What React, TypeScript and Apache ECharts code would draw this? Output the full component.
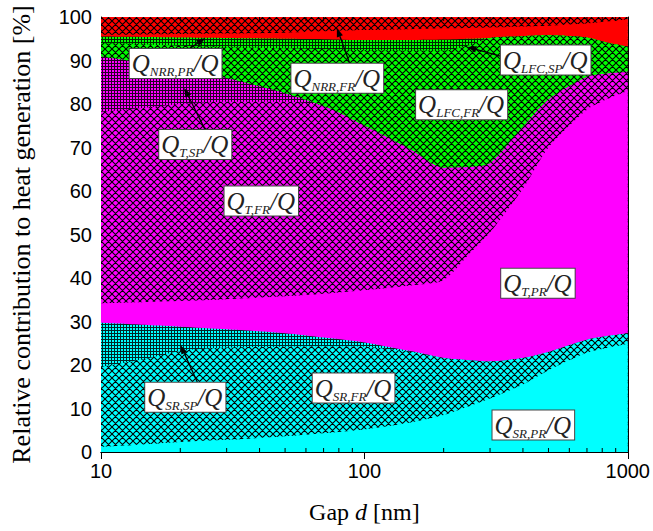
import React, { useEffect, useRef } from 'react';
import * as echarts from 'echarts';

// Gap d [nm]
const gaps = [10, 15, 20, 30, 50, 70, 100, 150, 200, 250, 300, 400, 500, 700, 850, 1000];
// Relative contributions [%], bottom to top
const srPR = [1.2, 1.8, 2.3, 2.8, 3.6, 4.3, 5.2, 6.8, 8.5, 10.5, 12.3, 15.5, 18.8, 22.8, 24.0, 24.8];
const srFR = [18.4, 19.7, 20.9, 21.2, 20.6, 20.0, 19.0, 16.2, 13.1, 10.6, 8.5, 6.1, 4.2, 3.0, 2.7, 2.5];
const srSP = [10.1, 7.7, 5.6, 4.2, 3.1, 2.0, 1.0, 0.2, 0, 0, 0, 0, 0, 0, 0, 0];
const tPR = [4.5, 5.3, 5.9, 6.9, 8.5, 10.1, 12.0, 15.1, 17.9, 24.4, 29.7, 38.9, 47.0, 52.9, 54.6, 55.7];
const tFR = [44.0, 44.7, 45.3, 45.4, 44.7, 43.1, 37.8, 31.2, 25.8, 20.0, 15.9, 14.2, 11.0, 7.5, 5.7, 4.4];
const tSP = [12.7, 10.1, 8.0, 5.5, 2.0, 0, 0, 0, 0, 0, 0, 0, 0, 0, 0, 0];
const lfcFR = [3.1, 4.4, 5.4, 7.1, 10.3, 13.1, 17.4, 22.8, 27.0, 28.0, 28.8, 20.9, 14.8, 9.1, 7.0, 5.8];
const lfcSP = [1.5, 1.7, 1.9, 2.1, 2.2, 2.3, 2.3, 2.4, 2.5, 1.5, 0, 0, 0, 0, 0, 0];
const nrrPR = [0.4, 0.6, 0.8, 1.0, 1.4, 1.8, 2.3, 2.5, 2.6, 2.5, 2.4, 2.2, 2.2, 3.2, 5.0, 6.3];
const nrrFR = [4.1, 4.0, 3.9, 3.8, 3.6, 3.3, 3.0, 2.8, 2.6, 2.5, 2.4, 2.2, 2.0, 1.5, 1.0, 0.5];

const minorGapTicks = [20, 30, 40, 50, 60, 70, 80, 90, 200, 300, 400, 500, 600, 700, 800, 900];

// label subscript, label anchor (gap, %), arrows [tailGap, tail%, tipGap, tip%]
const labelSubs = ['NRR,PR', 'NRR,FR', 'LFC,SP', 'LFC,FR', 'T,SP', 'T,FR', 'T,PR', 'SR,SP', 'SR,FR', 'SR,PR'];
const labelAnchors: number[][] = [
  [19.2, 89.3], [78.9, 85.9], [488, 90.1], [234, 79.8], [22.8, 70.7],
  [40.6, 57.7], [456, 38.8], [20.9, 12.6], [91, 14.7], [438, 6.2],
];
const arrows: number[][] = [
  [21.9, 92.9, 24.9, 95.2],
  [87.9, 89.4, 78.6, 97.5],
  [347, 90.6, 246, 93.1],
  [24.9, 74.0, 20.7, 83.7],
  [23.2, 16.1, 20.05, 24.6],
];

const CYAN = '#00ffff';
const MAGENTA = '#ff00ff';
const GREEN = '#00ff00';
const RED = '#ff0000';

function makePattern(base: string, kind: string): any {
  if (kind === 'solid') return base;
  const size = kind === 'cross' ? 7 : 3;
  const c = document.createElement('canvas');
  c.width = size;
  c.height = size;
  const ctx = c.getContext('2d')!;
  ctx.fillStyle = base;
  ctx.fillRect(0, 0, size, size);
  if (kind === 'cross') {
    ctx.strokeStyle = '#000';
    ctx.lineWidth = 1.1;
    ctx.beginPath();
    for (const k of [-size, 0, size]) {
      ctx.moveTo(k - 1, -1);
      ctx.lineTo(k + size + 1, size + 1);
      ctx.moveTo(k + size + 1, -1);
      ctx.lineTo(k - 1, size + 1);
    }
    ctx.stroke();
  } else {
    ctx.fillStyle = 'rgba(0,0,0,0.85)';
    ctx.fillRect(0, 0, size, 1);
    ctx.fillRect(0, 1, 1, size - 1);
  }
  return { image: c, repeat: 'repeat', imageWidth: size, imageHeight: size };
}

const layers = [
  { data: srPR, base: CYAN, kind: 'solid' },
  { data: srFR, base: CYAN, kind: 'cross' },
  { data: srSP, base: CYAN, kind: 'grid' },
  { data: tPR, base: MAGENTA, kind: 'solid' },
  { data: tFR, base: MAGENTA, kind: 'cross' },
  { data: tSP, base: MAGENTA, kind: 'grid' },
  { data: lfcFR, base: GREEN, kind: 'cross' },
  { data: lfcSP, base: GREEN, kind: 'grid' },
  { data: nrrPR, base: RED, kind: 'solid' },
  { data: nrrFR, base: RED, kind: 'cross' },
];

const SANS = 'Liberation Sans, Arial, sans-serif';
const SERIF = 'Liberation Serif, Times New Roman, serif';

export default function App() {
  const ref = useRef<HTMLDivElement>(null);
  useEffect(() => {
    document.body.style.margin = '0';
    const chart = echarts.init(ref.current!, null, { renderer: 'svg' });
    const axisCommon = {
      axisLine: { show: true, lineStyle: { color: '#000', width: 1 } },
      splitLine: { show: false },
    };
    // cumulative tops of each layer (stacked from the bottom)
    const running = gaps.map(() => 0);
    const tops = layers.map((l) => l.data.map((v, i) => (running[i] += v)));
    // draw upper layers first so lower layers cover them
    const order = layers.map((_, k) => k).reverse();

    chart.setOption({
      animation: false,
      backgroundColor: '#fff',
      grid: { left: 92, right: 25, top: 17, bottom: 79, containLabel: false },
      xAxis: [
        {
          type: 'log', logBase: 10, min: 10, max: 1000, position: 'bottom',
          ...axisCommon,
          axisTick: { show: true, inside: true, length: 7, lineStyle: { color: '#000' } },
          axisLabel: { color: '#000', fontFamily: SANS, fontSize: 20, margin: 9, formatter: (v: number) => String(Math.round(v)) },
          name: '{n|Gap }{i|d}{n| [nm]}',
          nameLocation: 'middle', nameGap: 48,
          nameTextStyle: {
            rich: {
              n: { fontFamily: SERIF, fontSize: 24, color: '#000' },
              i: { fontFamily: SERIF, fontSize: 24, fontStyle: 'italic', color: '#000' },
            },
          },
        },
        {
          type: 'log', logBase: 10, min: 10, max: 1000, position: 'top',
          ...axisCommon,
          axisTick: { show: true, inside: true, length: 7, lineStyle: { color: '#000' } },
          axisLabel: { show: false },
        },
      ],
      yAxis: [
        {
          type: 'value', min: 0, max: 100, interval: 10, position: 'left',
          ...axisCommon,
          axisTick: { show: true, inside: true, length: 7, lineStyle: { color: '#000' } },
          minorTick: { show: true, splitNumber: 2, length: 4, lineStyle: { color: '#000' } },
          axisLabel: { color: '#000', fontFamily: SANS, fontSize: 20, margin: 9 },
          name: 'Relative contribution to heat generation [%]',
          nameLocation: 'middle', nameGap: 67,
          nameTextStyle: { fontFamily: SERIF, fontSize: 26, color: '#000' },
        },
        {
          type: 'value', min: 0, max: 100, interval: 10, position: 'right',
          ...axisCommon,
          axisTick: { show: true, inside: true, length: 7, lineStyle: { color: '#000' } },
          minorTick: { show: true, splitNumber: 2, length: 4, lineStyle: { color: '#000' } },
          axisLabel: { show: false },
        },
      ],
      series: order.map((k) => ({
        type: 'line',
        name: 'L' + k,
        xAxisIndex: 0,
        yAxisIndex: 0,
        data: gaps.map((g, i) => [g, Math.min(100, tops[k][i])]),
        showSymbol: false,
        symbol: 'none',
        smooth: 0.25,
        silent: true,
        lineStyle: { width: 0 },
        areaStyle: { color: makePattern(layers[k].base, layers[k].kind), opacity: 1, origin: 'start' },
      })),
    });

    const px = (g: number, v: number) =>
      chart.convertToPixel({ xAxisIndex: 0, yAxisIndex: 0 }, [g, v]) as number[];

    const graphics: any[] = [];
    minorGapTicks.forEach((g) => {
      const b = px(g, 0);
      const t = px(g, 100);
      graphics.push({ type: 'line', shape: { x1: b[0], y1: b[1], x2: b[0], y2: b[1] - 4 }, style: { stroke: '#000', lineWidth: 1 }, z: 100 });
      graphics.push({ type: 'line', shape: { x1: t[0], y1: t[1], x2: t[0], y2: t[1] + 4 }, style: { stroke: '#000', lineWidth: 1 }, z: 100 });
    });
    arrows.forEach((a) => {
      const p0 = px(a[0], a[1]);
      const p1 = px(a[2], a[3]);
      const dx = p1[0] - p0[0];
      const dy = p1[1] - p0[1];
      const len = Math.sqrt(dx * dx + dy * dy);
      const ux = dx / len;
      const uy = dy / len;
      const hl = 9;
      const hw = 3.2;
      const bx = p1[0] - ux * hl;
      const by = p1[1] - uy * hl;
      graphics.push({ type: 'line', shape: { x1: p0[0], y1: p0[1], x2: bx, y2: by }, style: { stroke: '#000', lineWidth: 1.3 }, z: 100 });
      graphics.push({
        type: 'polygon',
        shape: { points: [[p1[0], p1[1]], [bx - uy * hw, by + ux * hw], [bx + uy * hw, by - ux * hw]] },
        style: { fill: '#000' },
        z: 100,
      });
    });
    labelSubs.forEach((s, i) => {
      const p = px(labelAnchors[i][0], labelAnchors[i][1]);
      graphics.push({
        type: 'text',
        x: p[0],
        y: p[1],
        z: 110,
        style: {
          text: '{q|Q}{s|' + s + '}{q|/Q}',
          align: 'center',
          verticalAlign: 'middle',
          backgroundColor: '#fff',
          borderColor: '#444',
          borderWidth: 1,
          padding: [0, 3, 0, 2],
          rich: {
            q: { fontFamily: SERIF, fontStyle: 'italic', fontSize: 25, lineHeight: 29, fill: '#222', color: '#222' },
            s: { fontFamily: SERIF, fontStyle: 'italic', fontSize: 13, lineHeight: 14, verticalAlign: 'bottom', fill: '#222', color: '#222' },
          },
        },
      });
    });
    chart.setOption({ graphic: graphics });
    return () => chart.dispose();
  }, []);
  return <div ref={ref} style={{ width: 653, height: 531 }} />;
}
